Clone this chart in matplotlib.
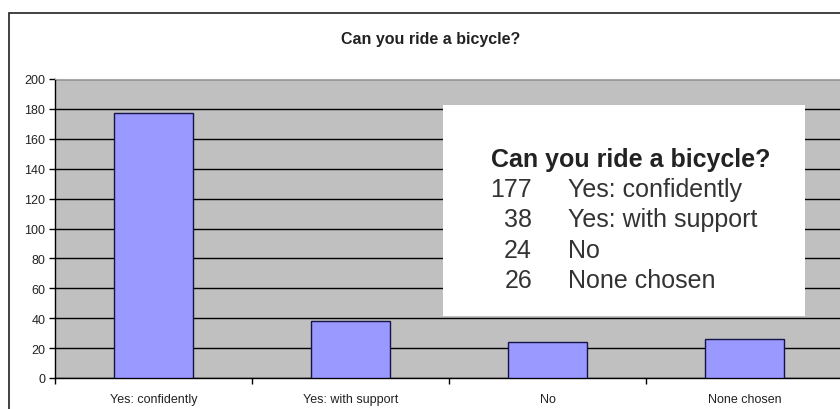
import matplotlib
matplotlib.use("Agg")
import matplotlib.pyplot as plt
from matplotlib.patches import Rectangle

# Survey answers
categories = ["Yes: confidently", "Yes: with support", "No", "None chosen"]
counts = [177, 38, 24, 26]
title = "Can you ride a bicycle?"
yticks = list(range(0, 201, 20))

W, H = 840, 410
plt.rcParams['font.family'] = ['Liberation Sans', 'DejaVu Sans']


def fx(px):
    return px / W


def fy(py):
    # pixel measured from top -> figure fraction
    return 1 - py / H


fig = plt.figure(figsize=(8.4, 4.1), dpi=100)
fig.patch.set_facecolor("white")

# outer chart border (runs off the right/bottom edge)
fig.patches.append(Rectangle((fx(9), -0.2), 1.2, fy(14) + 0.2, transform=fig.transFigure,
                             fill=False, edgecolor="#333333", linewidth=1.3, zorder=0))

# plot area
ax = fig.add_axes([fx(55), fy(379), fx(843 - 55), (379 - 80) / H])
ax.set_facecolor("#c0c0c0")
x = list(range(len(categories)))
ax.bar(x, counts, width=0.4, color="#9999ff", edgecolor="#141446", linewidth=1, zorder=3)

ax.set_xlim(-0.5, len(categories) - 0.5)
ax.set_ylim(0, 200)
ax.set_yticks(yticks)
ax.set_yticklabels([str(v) for v in yticks], fontsize=9, color="#222222")
ax.yaxis.grid(True, color="black", linewidth=1)
ax.set_axisbelow(True)

ax.set_xticks([i - 0.5 for i in range(len(categories) + 1)])
ax.set_xticklabels([])
ax.set_xticks(x, minor=True)
ax.set_xticklabels(categories, minor=True, fontsize=9, color="#222222")
ax.tick_params(axis="x", which="major", direction="out", length=4, width=1)
ax.tick_params(axis="x", which="minor", length=0, pad=11)
ax.tick_params(axis="y", direction="out", length=4, width=1, pad=3)

for s in ["left", "bottom"]:
    ax.spines[s].set_color("black")
    ax.spines[s].set_linewidth(1)
ax.spines["top"].set_color("#a8a8a8")
ax.spines["right"].set_visible(False)

# chart title
fig.text(fx(431), fy(44), title, ha="center", va="baseline", fontsize=11.5,
         fontweight="bold", color="#222222")

# pasted summary box
fig.patches.append(Rectangle((fx(443), fy(317)), fx(805 - 443), (317 - 106) / H,
                             transform=fig.transFigure, facecolor="white",
                             edgecolor="none", zorder=5))
fig.text(fx(491), fy(167), title, ha="left", va="baseline", fontsize=18,
         fontweight="bold", color="#222222", zorder=6)
for i, (cat, n) in enumerate(zip(categories, counts)):
    yb = 197 + i * 30.3
    fig.text(fx(532), fy(yb), str(n), ha="right", va="baseline", fontsize=18,
             color="#333333", zorder=6)
    fig.text(fx(568), fy(yb), cat, ha="left", va="baseline", fontsize=18,
             color="#333333", zorder=6)

fig.savefig("out.png", dpi=100)
